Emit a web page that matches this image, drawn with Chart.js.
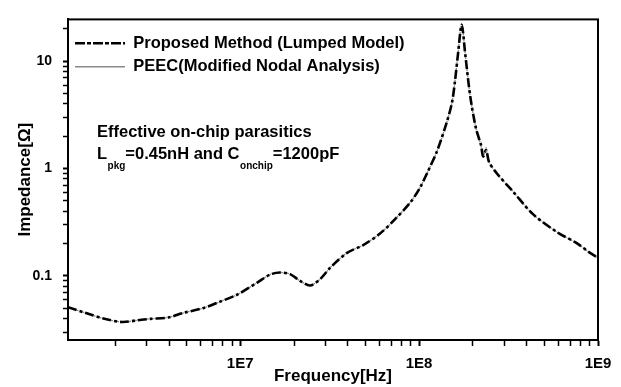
<!DOCTYPE html>
<html>
<head>
<meta charset="utf-8">
<script src="https://cdn.jsdelivr.net/npm/chart.js@4/dist/chart.umd.min.js"></script>
<style>
html,body{margin:0;padding:0;background:#fff;}
#wrap{width:621px;height:387px;position:relative;}
</style>
</head>
<body>
<div id="wrap"><canvas id="c" width="621" height="387"></canvas></div>
<script>
// ---- data ----
const freqs = [1.09e6, 1.36e6, 1.72e6, 2.19e6, 2.66e6, 3.14e6, 3.96e6, 4.81e6, 6.21e6, 7.72e6,
  9.6e6, 1.24e7, 1.47e7, 1.67e7, 1.9e7, 2.16e7, 2.46e7, 2.8e7, 3.18e7, 3.96e7,
  4.87e7, 6.05e7, 7.34e7, 8.9e7, 1.01e8, 1.12e8, 1.26e8, 1.43e8, 1.53e8, 1.59e8,
  1.65e8, 1.73e8, 1.81e8, 1.93e8, 2.08e8, 2.22e8, 2.28e8, 2.37e8, 2.46e8, 2.73e8,
  3.35e8, 4.33e8, 5.9e8, 7.64e8, 8.79e8, 1e9];
const proposed = [0.0511, 0.0453, 0.0401, 0.0372, 0.0386, 0.0398, 0.0410, 0.0452, 0.0501, 0.0576,
  0.0668, 0.0863, 0.103, 0.1076, 0.104, 0.090, 0.0815, 0.0934, 0.119, 0.164,
  0.194, 0.248, 0.338, 0.48, 0.66, 0.94, 1.455, 2.72, 4.2, 6.7,
  11.7, 21.8, 11.7, 4.74, 2.36, 1.65, 1.3, 1.48, 1.15, 0.895,
  0.61, 0.376, 0.256, 0.201, 0.169, 0.147];
const peec = [0.0511, 0.0453, 0.0401, 0.0372, 0.0386, 0.0398, 0.0410, 0.0452, 0.0501, 0.0576,
  0.0668, 0.0863, 0.103, 0.1076, 0.104, 0.090, 0.0815, 0.0934, 0.119, 0.164,
  0.194, 0.248, 0.338, 0.48, 0.66, 0.94, 1.455, 2.72, 4.2, 6.7,
  11.7, 22.5, 11.7, 4.74, 2.36, 1.62, 1.27, 1.56, 1.15, 0.895,
  0.61, 0.376, 0.256, 0.201, 0.169, 0.147];
const seriesNames = ['Proposed Method (Lumped Model)', 'PEEC(Modified Nodal Analysis)'];
const xTickValues = [2e6,3e6,4e6,5e6,6e6,7e6,8e6,9e6,1e7,2e7,3e7,4e7,5e7,6e7,7e7,8e7,9e7,1e8,2e8,3e8,4e8,5e8,6e8,7e8,8e8,9e8,1e9];
const xMajor = [1e7, 1e8, 1e9];
const xLabels = ['1E7', '1E8', '1E9'];
const yTickValues = [0.03,0.04,0.05,0.06,0.07,0.08,0.09,0.1,0.2,0.3,0.4,0.5,0.6,0.7,0.8,0.9,1,2,3,4,5,6,7,8,9,10,20];
const yMajor = [0.1, 1, 10];
const yLabels = ['0.1', '1', '10'];
const xRange = [1.09e6, 1e9];
const yRange = [0.0253, 24.5];

const FONT = "'Liberation Sans', Arial, sans-serif";
const isMajor = (v, arr) => arr.some(m => Math.abs(v / m - 1) < 1e-6);
const labelFor = (v, arr, labs) => { const i = arr.findIndex(m => Math.abs(v / m - 1) < 1e-6); return i >= 0 ? labs[i] : ''; };

const frame = {
  id: 'frame',
  afterDatasetsDraw(chart) {
    const a = chart.chartArea, ctx = chart.ctx;
    ctx.save();
    ctx.strokeStyle = '#000';
    ctx.lineWidth = 2;
    ctx.strokeRect(a.left, a.top, a.right - a.left, a.bottom - a.top);
    ctx.restore();
  }
};

const annot = {
  id: 'annot',
  afterDraw(chart) {
    const ctx = chart.ctx;
    ctx.save();
    ctx.fillStyle = '#000';
    ctx.textBaseline = 'middle';
    ctx.textAlign = 'left';
    const big = "bold 16.5px " + FONT, small = "bold 10px " + FONT;
    ctx.font = big;
    ctx.fillText('Effective on-chip parasitics', 97, 132);
    const parts = [['L', big, 0], ['pkg', small, 12], ['=0.45nH and C', big, 0], ['onchip', small, 12], ['=1200pF', big, 0]];
    let x = 97;
    for (const [t, f, dy] of parts) {
      ctx.font = f;
      ctx.fillText(t, x, 154 + dy);
      x += ctx.measureText(t).width + (dy ? 0 : 0.5);
    }
    ctx.restore();
  }
};

new Chart(document.getElementById('c'), {
  type: 'line',
  data: {
    datasets: [
      {
        label: seriesNames[0],
        data: freqs.map((f, i) => ({ x: f, y: proposed[i] })),
        borderColor: '#000',
        backgroundColor: 'rgba(0,0,0,0)',
        borderWidth: 2.6,
        borderDash: [9, 3, 3, 3],
        pointRadius: 0,
        tension: 0.3,
        fill: false
      },
      {
        label: seriesNames[1],
        data: freqs.map((f, i) => ({ x: f, y: peec[i] })),
        borderColor: '#8a8a8a',
        backgroundColor: 'rgba(0,0,0,0)',
        borderWidth: 1.3,
        borderDash: [2, 1],
        pointRadius: 0,
        tension: 0.3,
        fill: false
      }
    ]
  },
  options: {
    responsive: false,
    animation: false,
    devicePixelRatio: 1,
    layout: { padding: { top: 10, right: 23, left: 0, bottom: 0 } },
    plugins: {
      tooltip: { enabled: false },
      legend: {
        position: 'chartArea',
        align: 'start',
        title: { display: true, text: '', font: { size: 10 }, padding: { top: 16, bottom: 0 } },
        labels: {
          usePointStyle: false,
          boxWidth: 50,
          boxHeight: 0,
          color: '#000',
          padding: 7,
          font: { family: FONT, size: 16.5, weight: 'bold' }
        }
      }
    },
    scales: {
      x: {
        type: 'logarithmic',
        position: 'bottom',
        min: xRange[0],
        max: xRange[1],
        afterBuildTicks: s => { s.ticks = xTickValues.map(v => ({ value: v, major: isMajor(v, xMajor) })); },
        afterFit: s => { s.height = 47; },
        ticks: {
          autoSkip: false,
          maxRotation: 0,
          color: '#000',
          padding: 9,
          font: { family: FONT, size: 15, weight: 'bold' },
          callback: v => labelFor(v, xMajor, xLabels)
        },
        grid: {
          drawOnChartArea: false,
          drawTicks: true,
          tickLength: 6,
          tickColor: '#000',
          tickWidth: c => (c.tick && isMajor(c.tick.value, xMajor)) ? 2 : 1.5
        },
        border: { display: true, color: '#000', width: 2 },
        title: {
          display: true,
          text: 'Frequency[Hz]',
          color: '#000',
          font: { family: FONT, size: 17, weight: 'bold' },
          padding: { top: 0, bottom: 0 }
        }
      },
      y: {
        type: 'logarithmic',
        min: yRange[0],
        max: yRange[1],
        afterBuildTicks: s => { s.ticks = yTickValues.map(v => ({ value: v, major: isMajor(v, yMajor) })); },
        afterFit: s => { s.width = 68; },
        ticks: {
          autoSkip: false,
          color: '#000',
          padding: 11,
          font: { family: FONT, size: 14, weight: 'bold' },
          callback: v => labelFor(v, yMajor, yLabels)
        },
        grid: {
          drawOnChartArea: false,
          drawTicks: true,
          tickLength: 5,
          tickColor: '#000',
          tickWidth: c => (c.tick && isMajor(c.tick.value, yMajor)) ? 2 : 1.5
        },
        border: { display: true, color: '#000', width: 2 },
        title: {
          display: true,
          text: 'Impedance[Ω]',
          color: '#000',
          font: { family: FONT, size: 17, weight: 'bold' },
          padding: { top: 15, bottom: 0 }
        }
      }
    }
  },
  plugins: [frame, annot]
});
</script>
</body>
</html>
